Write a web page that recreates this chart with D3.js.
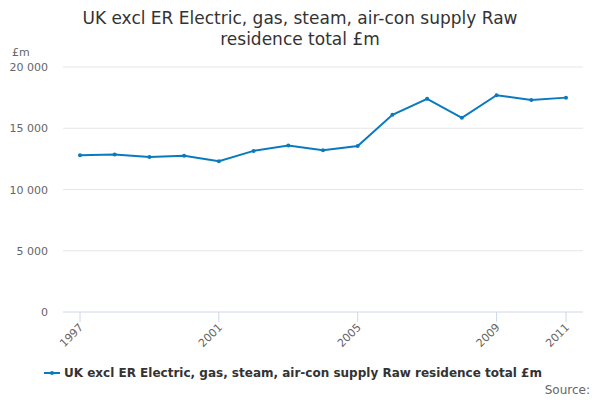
<!DOCTYPE html>
<html><head><meta charset="utf-8">
<script src="https://cdn.jsdelivr.net/npm/d3@7"></script>
<style>body{margin:0;background:#fff;font-family:"DejaVu Sans",sans-serif}</style>
</head><body><svg width="600" height="400"></svg>
<script>
const years=[1997,1998,1999,2000,2001,2002,2003,2004,2005,2006,2007,2008,2009,2010,2011];
const values=[12800,12850,12650,12750,12300,13150,13600,13200,13550,16100,17400,15850,17700,17300,17500];
const yTicks=[0,5000,10000,15000,20000];
const xTicks=[1997,2001,2005,2009,2011];
const svg=d3.select("svg");
const x=d3.scaleLinear().domain([1997,2011]).range([80,566]);
const y=d3.scaleLinear().domain([0,20000]).range([312,67]);
const fmt=d=>d3.format(",")(d).replace(/,/g," ");
svg.append("text").attr("x",300).attr("y",24).attr("text-anchor","middle").attr("font-size",17).attr("fill","#333").text("UK excl ER Electric, gas, steam, air-con supply Raw");
svg.append("text").attr("x",300).attr("y",45).attr("text-anchor","middle").attr("font-size",17).attr("fill","#333").text("residence total £m");
svg.append("text").attr("x",12).attr("y",56).attr("font-size",11).attr("fill","#666").text("£m");
yTicks.forEach(t=>{
 svg.append("line").attr("x1",63).attr("x2",583).attr("y1",y(t)).attr("y2",y(t)).attr("stroke",t===0?"#ccd6eb":"#e6e6e6");
 svg.append("text").attr("x",48).attr("y",y(t)+4).attr("text-anchor","end").attr("font-size",11).attr("fill","#666").text(fmt(t));
});
xTicks.forEach(t=>{
 svg.append("line").attr("x1",x(t)).attr("x2",x(t)).attr("y1",312).attr("y2",322).attr("stroke","#ccd6eb");
 svg.append("text").attr("transform",`translate(${x(t)+4},${328}) rotate(-45)`).attr("text-anchor","end").attr("font-size",11).attr("fill","#666").text(t);
});
const line=d3.line().x((d,i)=>x(years[i])).y(d=>y(d));
svg.append("path").datum(values).attr("d",line).attr("fill","none").attr("stroke","#0a7abf").attr("stroke-width",2);
svg.selectAll("circle.p").data(values).enter().append("circle").attr("cx",(d,i)=>x(years[i])).attr("cy",d=>y(d)).attr("r",2).attr("fill","#0a7abf");
svg.append("line").attr("x1",44).attr("x2",60).attr("y1",373).attr("y2",373).attr("stroke","#0a7abf").attr("stroke-width",2);
svg.append("circle").attr("cx",52).attr("cy",373).attr("r",2).attr("fill","#0a7abf");
svg.append("text").attr("x",64).attr("y",377).attr("font-size",12).attr("font-weight","bold").attr("fill","#333").text("UK excl ER Electric, gas, steam, air-con supply Raw residence total £m");
svg.append("text").attr("x",590).attr("y",394).attr("text-anchor","end").attr("font-size",12).attr("fill","#666").text("Source:");
</script></body></html>
